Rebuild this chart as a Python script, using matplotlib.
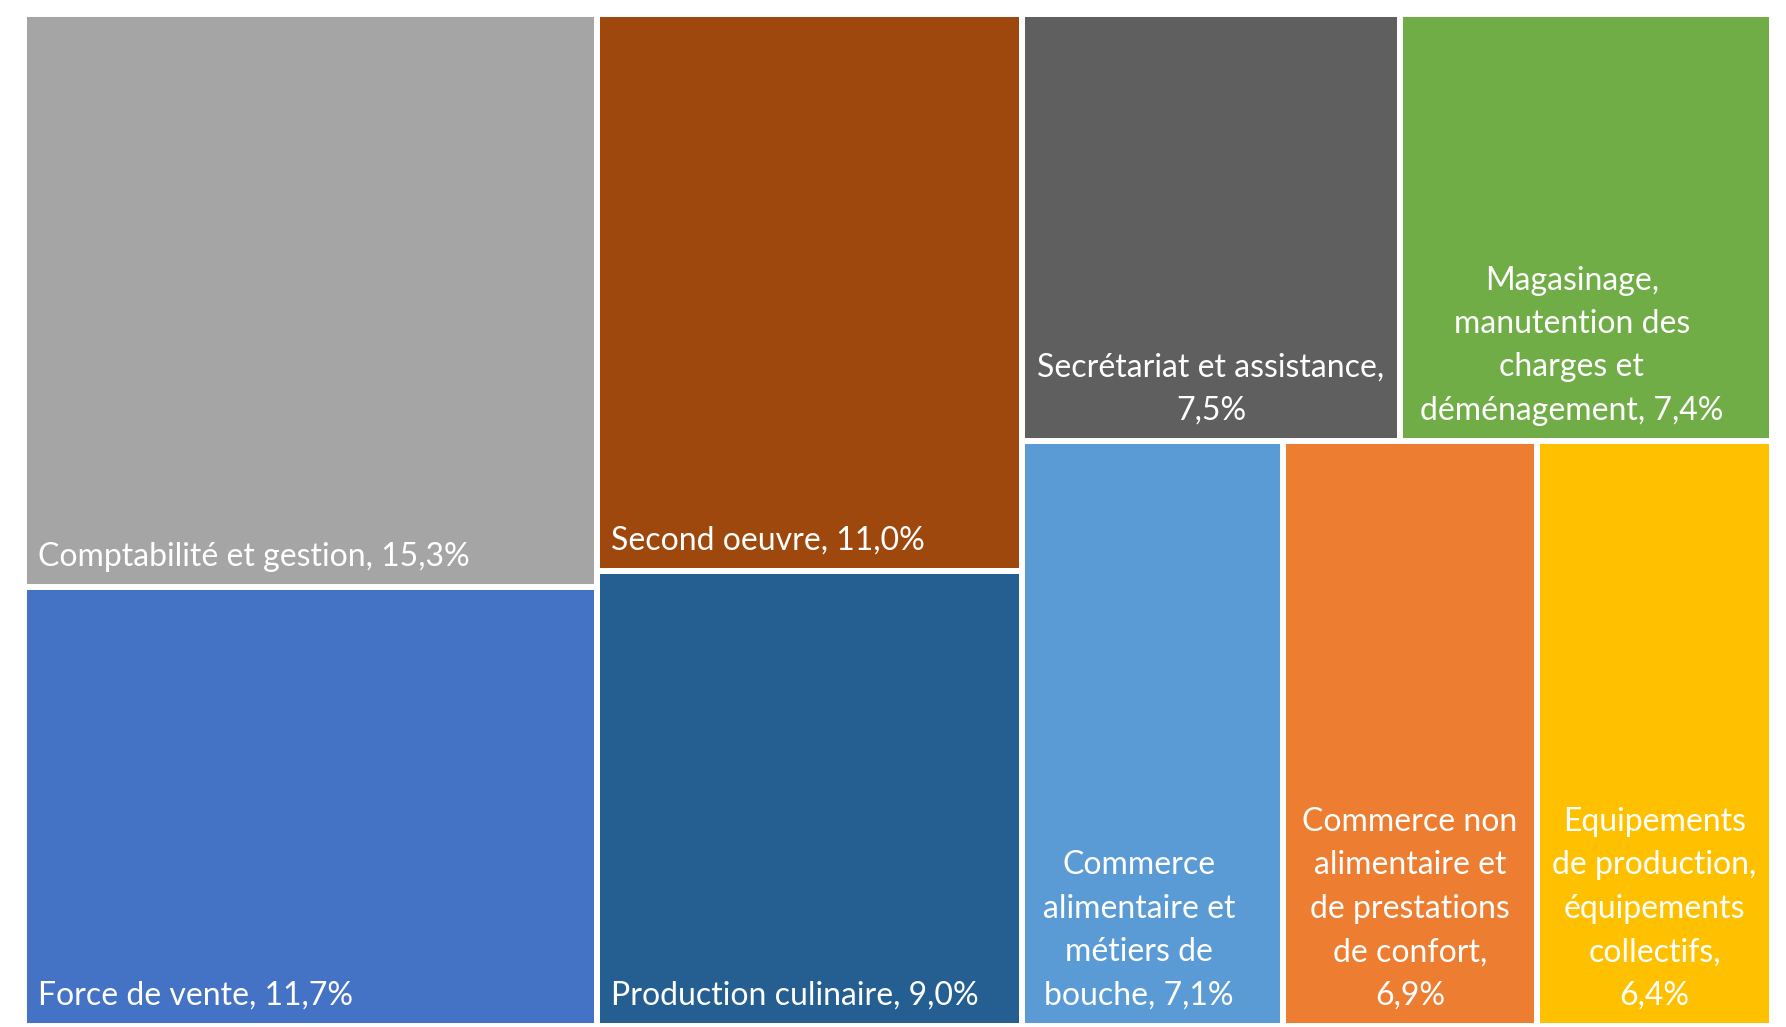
import matplotlib.pyplot as plt
from matplotlib.patches import Rectangle

# Data: share of each job family (%)
labels = [
    "Comptabilité et gestion", "Force de vente",
    "Second oeuvre", "Production culinaire",
    "Secrétariat et assistance", "Magasinage,\nmanutention des\ncharges et\ndéménagement",
    "Commerce\nalimentaire et\nmétiers de\nbouche", "Commerce non\nalimentaire et\nde prestations\nde confort",
    "Equipements\nde production,\néquipements\ncollectifs",
]
values = [15.3, 11.7, 11.0, 9.0, 7.5, 7.4, 7.1, 6.9, 6.4]
colors = ["#A5A5A5", "#4472C4", "#9E480E", "#255E91", "#5F5F5F",
          "#70AD47", "#5B9BD5", "#ED7D31", "#FFC000"]

# layout: columns -> rows -> item indices
columns = [[[0], [1]], [[2], [3]], [[4, 5], [6, 7, 8]]]
# separator between name and value, and label alignment
label_sep = [", ", ", ", ", ", ", ", ",\n", ", ", ", ", ",\n", ",\n"]
align = ["left", "left", "left", "left", "center", "center", "center", "center", "center"]
# small horizontal nudge (points) for wrapped labels
nudge = [0, 0, 0, 0, 0, -10, -10, 0, 0]

total = sum(values)

fig = plt.figure(figsize=(17.86, 10.27), dpi=100)
ax = fig.add_axes([24 / 1786, 1 / 1027, 1748 / 1786, 1012 / 1027])
ax.set_xlim(0, total)
ax.set_ylim(1, 0)
ax.axis("off")

x0 = 0
for col in columns:
    col_sum = sum(values[i] for row in col for i in row)
    y0 = 0
    for row in col:
        row_sum = sum(values[i] for i in row)
        h = row_sum / col_sum
        xx = x0
        for i in row:
            w = values[i] / row_sum * col_sum
            ax.add_patch(Rectangle((xx, y0), w, h, facecolor=colors[i],
                                   edgecolor="white", linewidth=4.3))
            txt = labels[i] + label_sep[i] + f"{values[i]:.1f}%".replace(".", ",")
            if align[i] == "left":
                ax.annotate(txt, xy=(xx, y0 + h), xytext=(10, 11),
                            textcoords="offset points", ha="left", va="bottom",
                            color="white", fontsize=23, family="Lato")
            else:
                ax.annotate(txt, xy=(xx + w / 2, y0 + h), xytext=(nudge[i], 11),
                            textcoords="offset points", ha="center", va="bottom",
                            color="white", fontsize=23, family="Lato",
                            multialignment="center", linespacing=1.56)
            xx += w
        y0 += h
    x0 += col_sum

fig.savefig("out.png", dpi=100)
